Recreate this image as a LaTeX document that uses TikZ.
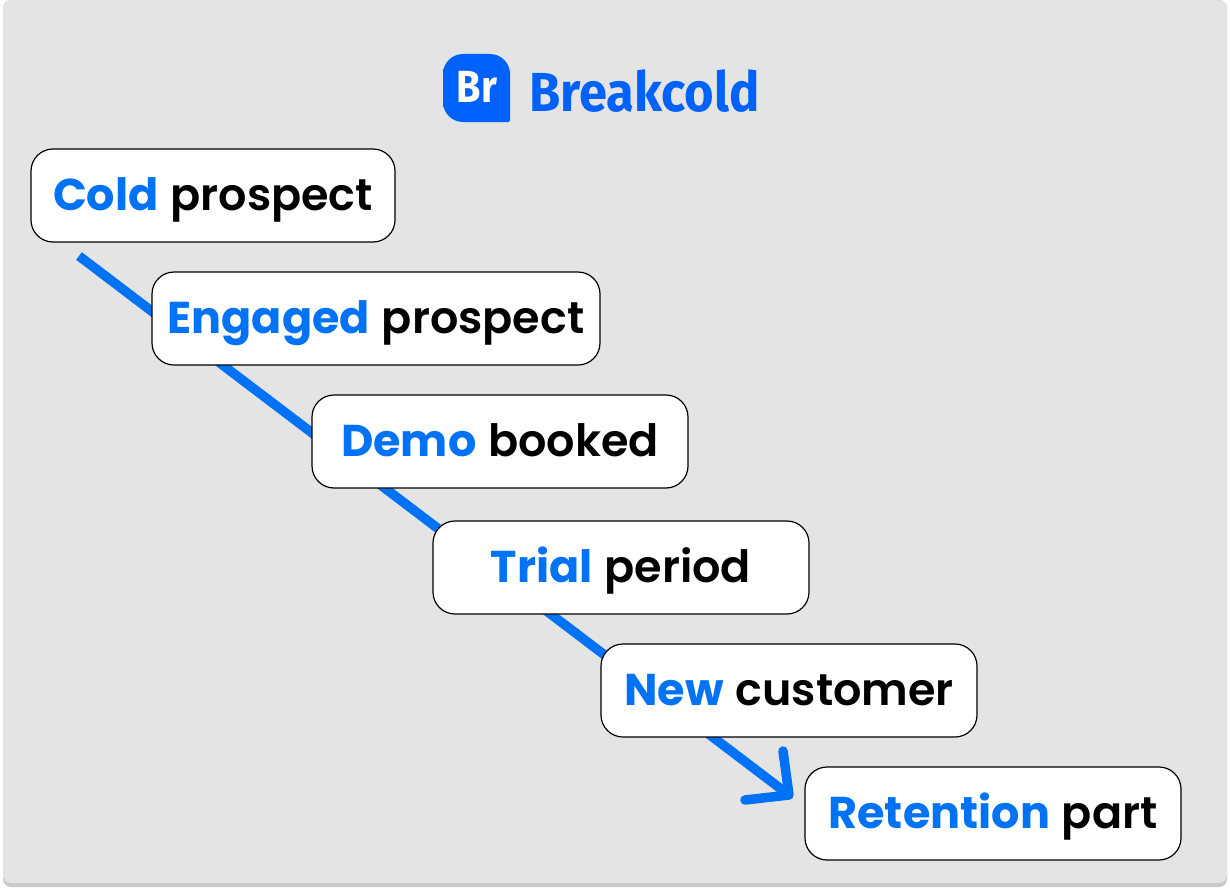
\documentclass[tikz,border=0pt]{standalone}
\usepackage{fontspec}
\setmainfont{Poppins}[BoldFont={Poppins Bold}]
\newfontfamily\medfont{Poppins SemiBold}
\newfontfamily\logofont{Fira Sans}[BoldFont={Fira Sans Bold}]
\definecolor{bgfill}{HTML}{E4E4E4}
\definecolor{bgshadow}{HTML}{C9C9C9}
\definecolor{accent}{HTML}{0072F5}
\definecolor{logoblue}{HTML}{0061FB}
\newcommand{\hl}[1]{\textcolor{accent}{\bfseries #1}}
\newcommand{\rest}[1]{{\medfont #1}}
\tikzset{
  stage/.style={draw=black,line width=1.2pt,fill=white,rounded corners=22pt,
    minimum height=93pt,inner sep=0pt,align=center,
    font=\fontsize{44.5pt}{50pt}\selectfont,text height=30pt,text depth=0pt},
  flow/.style={draw=accent,line width=9.5pt},
  flowhead/.style={draw=accent,line width=9.5pt,line cap=round,line join=round}
}
\begin{document}
\begin{tikzpicture}[x=1pt,y=-1pt]
\useasboundingbox (0,0) rectangle (1230,891);
\fill[bgshadow,rounded corners=8pt] (3,0) rectangle (1227,887);
\fill[bgfill,rounded corners=8pt] (3,0) rectangle (1227,883);
% logo
\fill[logoblue,rounded corners=20pt] (443,88) -- (443,54) -- (510,54) -- (510,88)
  [rounded corners=2pt] -- (510,122) [rounded corners=20pt] -- (443,122) -- cycle;
\node[text=white,inner sep=0pt,font=\logofont\bfseries\fontsize{45pt}{45pt}\selectfont] (brmark) at (477,87) {\scalebox{0.88}[1]{Br}};
\node[text=logoblue,inner sep=0pt,anchor=west,font=\logofont\bfseries\fontsize{55pt}{55pt}\selectfont] (brand) at (529,91.5) {\scalebox{0.92}[1]{Breakcold}};
% connector
\coordinate (flowstart) at (79,256);
\coordinate (flowtip) at (789,795);
\coordinate (headA) at (783,751);
\coordinate (headB) at (745,800);
\draw[flow] (flowstart) -- (flowtip);
\draw[flowhead] (headA) -- (flowtip) -- (headB);
% stages
\node[stage,minimum width=364pt] (s1) at (213,195.5) {\hl{Cold} \rest{prospect}};
\node[stage,minimum width=448pt] (s2) at (376,318.5) {\hl{Engaged} \rest{prospect}};
\node[stage,minimum width=376pt] (s3) at (500,441.5) {\hl{Demo} \rest{booked}};
\node[stage,minimum width=376pt] (s4) at (621,567.5) {\hl{Trial} \rest{period}};
\node[stage,minimum width=376pt] (s5) at (789,690.5) {\hl{New} \rest{customer}};
\node[stage,minimum width=376pt] (s6) at (993,813.5) {\hl{Retention} \rest{part}};
\end{tikzpicture}
\end{document}
